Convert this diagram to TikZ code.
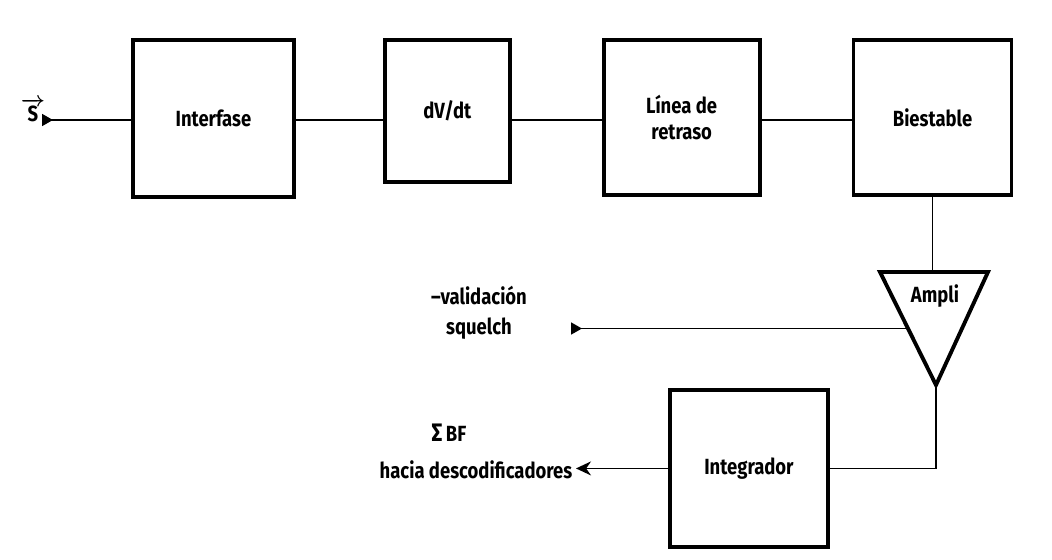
\documentclass[tikz,border=0pt]{standalone}
\usepackage{amsmath}
\usepackage{fontspec}
\newfontfamily\diagfont{Fira Sans}[FakeStretch=0.84]
\usetikzlibrary{positioning,arrows.meta,calc}

\begin{document}
\begin{tikzpicture}[
    node distance=1.8cm,
    block/.style={rectangle, draw=black, line width=2.2pt, minimum width=3.2cm, minimum height=3.1cm, align=center, anchor=north west, font=\diagfont\bfseries\fontsize{12.5}{14.5}\selectfont},
    label text/.style={font=\diagfont\bfseries\fontsize{12.5}{17}\selectfont, align=center},
    wire/.style={line width=1pt, black},
    inwire/.style={{Triangle[reversed, length=2.2mm, width=2.4mm]}-, line width=1pt, black},
    outwire/.style={-{Stealth[length=3mm, width=2.8mm]}, line width=1pt, black},
]
    \useasboundingbox (0,0) rectangle (21.04,-11.2);

    % Main flow
    \node[block, minimum width=3.22cm, minimum height=3.14cm] (interfase) at (2.62,-0.76) {Interfase};
    \node[block, minimum width=2.5cm, minimum height=2.84cm, right=1.74cm of interfase.north east, anchor=north west] (dvdt) {dV/dt};
    \node[block, minimum width=3.12cm, right=1.8cm of dvdt.north east, anchor=north west] (retraso) {Línea de\\retraso};
    \node[block, minimum width=3.16cm, right=1.8cm of retraso.north east, anchor=north west] (biestable) {Biestable};
    \node[block, minimum width=3.16cm, minimum height=3.14cm] (integrador) at (13.36,-7.76) {Integrador};
    \coordinate (bus) at (0,-2.4);

    % Ampli
    \coordinate (amptl) at (17.6,-5.44);
    \coordinate (amptr) at (19.76,-5.44);
    \coordinate (ampap) at (18.72,-7.7);
    \coordinate (ampin) at ($(amptl)!0.5!(ampap)$);
    \draw[line width=2.2pt, line join=miter] (amptl) -- (amptr) -- (ampap) -- cycle;
    \node[label text] (ampli) at (18.7,-5.92) {Ampli};

    % Labels
    \node[label text] (sig) at (0.66,-2.2) {$\boldsymbol{\overrightarrow{\text{\diagfont\bfseries\fontsize{12.5}{17}\selectfont S}}}$};
    \coordinate (sin) at (0.84,-2.4);
    \node[label text, align=center] (squelch) at (9.58,-6.26) {–validación\\squelch};
    \coordinate (sqend) at (11.42,-6.56);
    \node[label text] (sigma) at (8.98,-8.66) {{\Large Σ}\,BF};
    \node[label text] (hacia) at (9.52,-9.4) {hacia descodificadores};
    \coordinate (bfend) at (11.52,-9.26);

    % Top chain
    \draw[inwire] (sin) -- (interfase.west |- bus);
    \draw[wire] (interfase.east |- bus) -- (dvdt.west |- bus);
    \draw[wire] (dvdt.east |- bus) -- (retraso.west |- bus);
    \draw[wire] (retraso.east |- bus) -- (biestable.west |- bus);

    % Down to Ampli and Integrador
    \draw[wire] (biestable.south) -- (biestable.south |- amptl);
    \draw[inwire] (sqend |- ampin) -- (ampin);
    \draw[wire] (ampap) |- (integrador.east);
    \draw[outwire] (integrador.west) -- (bfend |- integrador.west);
\end{tikzpicture}
\end{document}
